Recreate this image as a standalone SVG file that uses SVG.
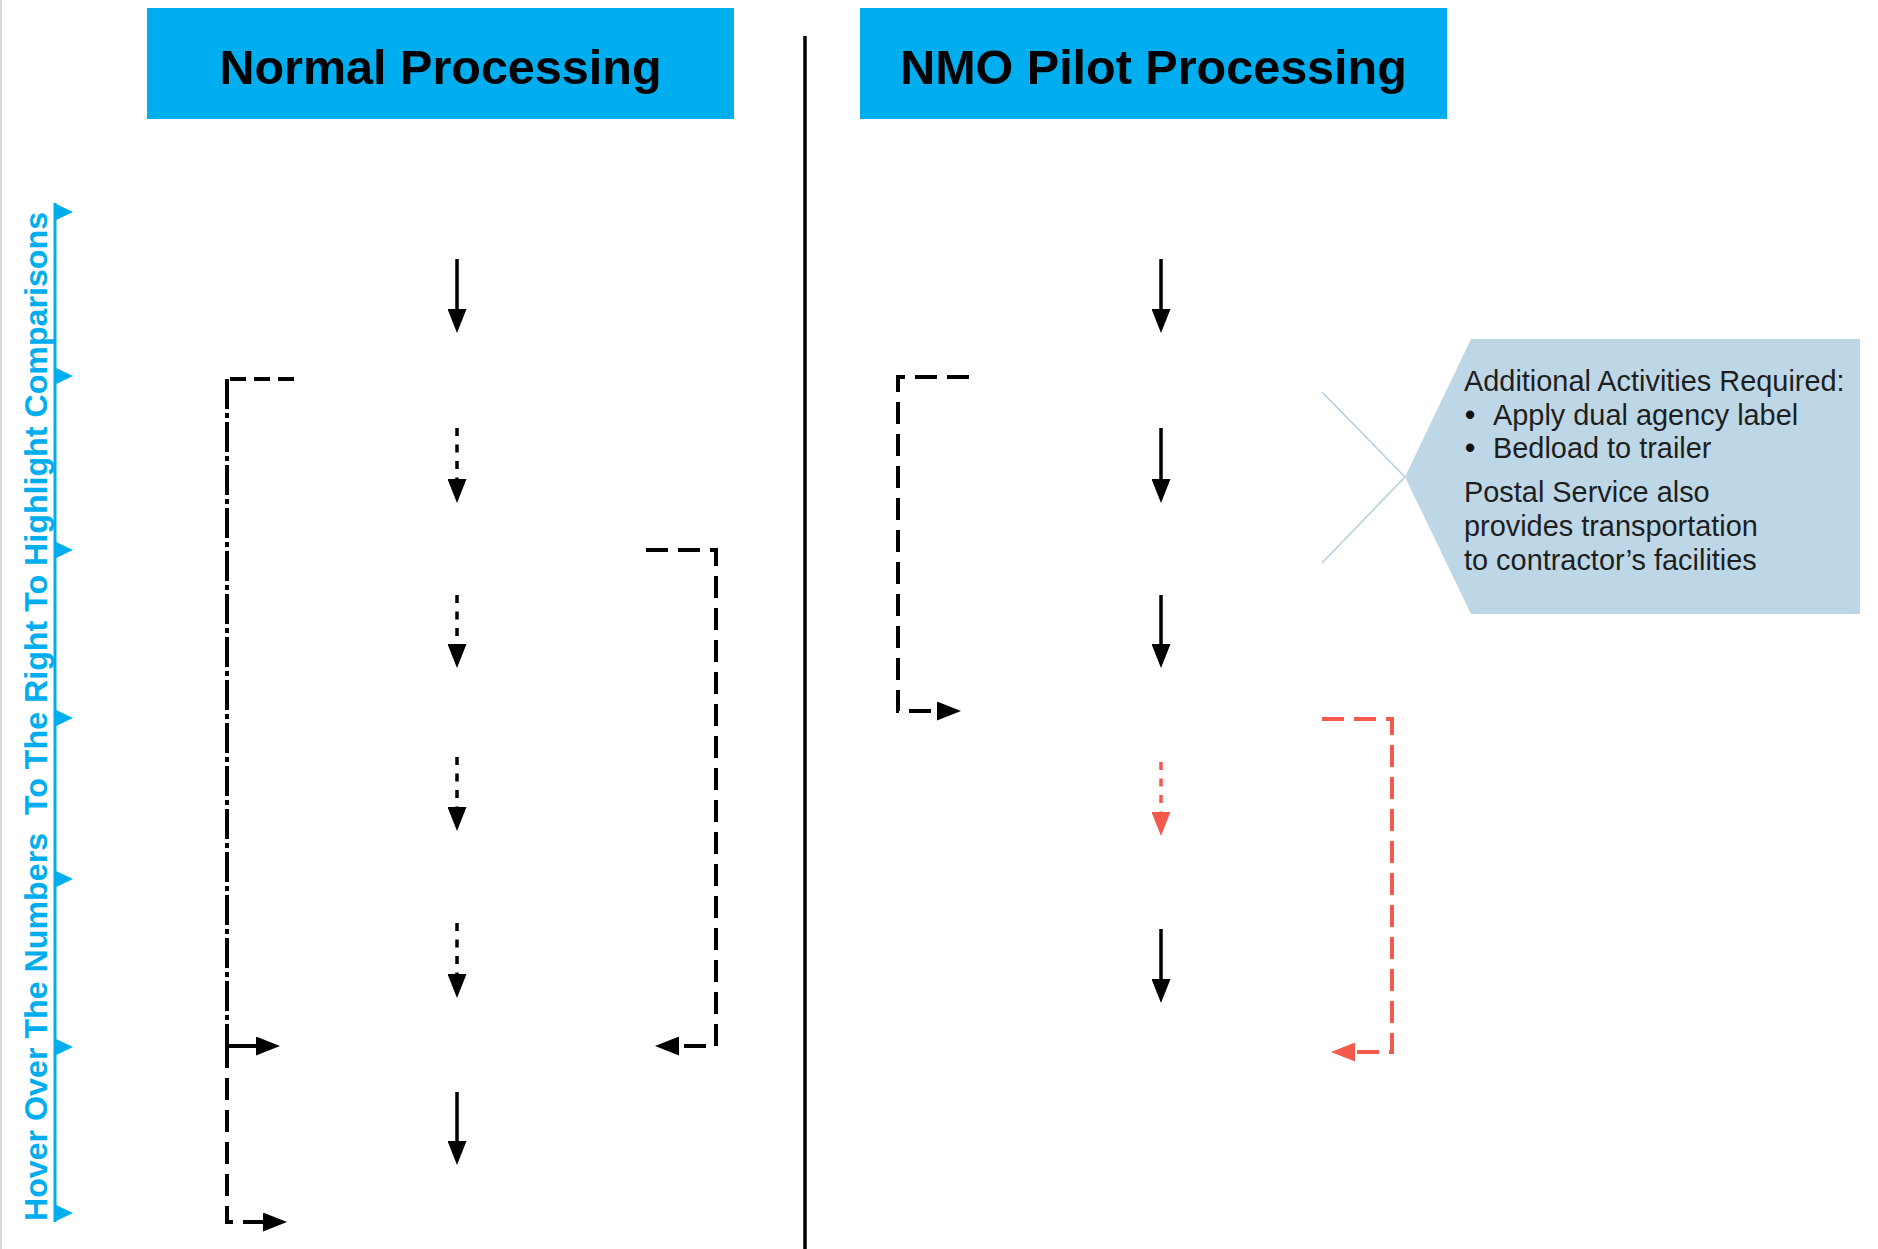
<svg xmlns="http://www.w3.org/2000/svg" width="1878" height="1249" viewBox="0 0 1878 1249">
<style>
.hdr{fill:#00AEEF}
.hdrtxt{font-family:"Liberation Sans",Arial,sans-serif;font-weight:bold;font-size:48.5px;fill:#000;text-anchor:middle}
.axis{stroke:#00AEEF;stroke-width:3;fill:none}
.axistxt{font-family:"Liberation Sans",Arial,sans-serif;font-weight:bold;font-size:32.2px;fill:#00AEEF;text-anchor:middle;white-space:pre}
.solid{stroke:#000;stroke-width:3.5;fill:none}
.dot{stroke:#000;stroke-width:3.5;stroke-dasharray:8 8.5;fill:none}
.dotred{stroke:#F15A4C;stroke-width:3.5;stroke-dasharray:8 8.5;fill:none}
.dash{stroke:#000;stroke-width:4;stroke-dasharray:22 10;fill:none}
.dashred{stroke:#F15A4C;stroke-width:4;stroke-dasharray:22 10;fill:none}
.dashdot{stroke:#000;stroke-width:4;stroke-dasharray:30 4 5 4;fill:none}
.topdash{stroke:#000;stroke-width:4;stroke-dasharray:16 8;fill:none}
.callout{fill:#BDD7E7}
.xline{stroke:#B3D0E4;stroke-width:1.6;fill:none}
.ctxt{font-family:"Liberation Sans",Arial,sans-serif;font-size:28.9px;fill:#1e1e1e}
.bul{font-family:"Liberation Sans",Arial,sans-serif;font-weight:bold;font-size:28.9px;fill:#111}
</style>
<defs>
<marker id="ah" markerUnits="userSpaceOnUse" markerWidth="24" markerHeight="19" refX="2" refY="9.5" orient="auto" viewBox="0 0 24 19"><path d="M0,0 L24,9.5 L0,19 z" fill="#000"/></marker>
<marker id="ahr" markerUnits="userSpaceOnUse" markerWidth="24" markerHeight="19" refX="2" refY="9.5" orient="auto" viewBox="0 0 24 19"><path d="M0,0 L24,9.5 L0,19 z" fill="#F15A4C"/></marker>
<path id="tri" d="M0,-9 L19,0 L0,9 z" fill="#00AEEF"/>
</defs>
<rect x="0" y="0" width="1878" height="1249" fill="#fff"/>
<rect x="0" y="0" width="2" height="1249" fill="#DADADA"/>
<g id="divider"><line x1="805" y1="36" x2="805" y2="1249" stroke="#000" stroke-width="3.5"/></g>
<g id="header-normal">
<rect class="hdr" x="147" y="8" width="587" height="111"/>
<text class="hdrtxt" x="440.5" y="84">Normal Processing</text>
</g>
<g id="header-nmo">
<rect class="hdr" x="860" y="8" width="587" height="111"/>
<text class="hdrtxt" x="1153.5" y="84">NMO Pilot Processing</text>
</g>
<g id="axis">
<line class="axis" x1="55" y1="203" x2="55" y2="1222"/>
<use href="#tri" x="54" y="212"/>
<use href="#tri" x="54" y="376"/>
<use href="#tri" x="54" y="550"/>
<use href="#tri" x="54" y="718"/>
<use href="#tri" x="54" y="879"/>
<use href="#tri" x="54" y="1047"/>
<use href="#tri" x="54" y="1213"/>
<text class="axistxt" transform="translate(47,716.5) rotate(-90)">Hover Over The Numbers  To The Right To Highlight Comparisons</text>
</g>
<g id="callout">
<polygon class="callout" points="1405,477 1471,339 1860,339 1860,614 1471,614"/>
<line class="xline" x1="1322" y1="392" x2="1405" y2="477"/>
<line class="xline" x1="1322" y1="563" x2="1405" y2="477"/>
<text class="ctxt" x="1464" y="391">Additional Activities Required:</text>
<text class="bul" x="1465" y="425">•</text>
<text class="ctxt" x="1493" y="425">Apply dual agency label</text>
<text class="bul" x="1465" y="458">•</text>
<text class="ctxt" x="1493" y="458">Bedload to trailer</text>
<text class="ctxt" x="1464" y="502">Postal Service also</text>
<text class="ctxt" x="1464" y="536">provides transportation</text>
<text class="ctxt" x="1464" y="570">to contractor’s facilities</text>
</g>
<g id="connectors">
<path class="solid" d="M457,259 V311" marker-end="url(#ah)"/>
<path class="dot" d="M457,428 V481" marker-end="url(#ah)"/>
<path class="dot" d="M457,595 V646" marker-end="url(#ah)"/>
<path class="dot" d="M457,757 V809" marker-end="url(#ah)"/>
<path class="dot" d="M457,923 V976" marker-end="url(#ah)"/>
<path class="solid" d="M457,1092 V1143" marker-end="url(#ah)"/>
<path class="topdash" d="M294,379 H227"/>
<path class="dashdot" d="M227,379 V1046"/>
<path class="dashdot" d="M227,1046 H258" marker-end="url(#ah)"/>
<path class="dash" d="M227,1046 V1222 H265" marker-end="url(#ah)"/>
<path class="dash" d="M646,550 H716 V1046 H677" marker-end="url(#ah)"/>
<path class="solid" d="M1161,259 V311" marker-end="url(#ah)"/>
<path class="solid" d="M1161,428 V481" marker-end="url(#ah)"/>
<path class="solid" d="M1161,595 V646" marker-end="url(#ah)"/>
<path class="dotred" d="M1161,762 V814" marker-end="url(#ahr)"/>
<path class="solid" d="M1161,929 V981" marker-end="url(#ah)"/>
<path class="dash" d="M969,377 H898 V711 H939" marker-end="url(#ah)"/>
<path class="dashred" d="M1322,719 H1392 V1052 H1353" marker-end="url(#ahr)"/>
</g>
</svg>
